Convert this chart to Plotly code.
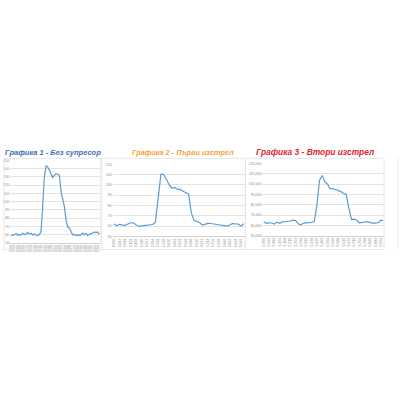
import plotly.graph_objects as go

# graph 1 - no suppressor (dB)
values_1 = [
    59.2, 59.2, 59.6, 61.2, 59.2, 60.0, 59.6, 61.6, 60.4, 60.8,
    62.8, 60.8, 61.6, 59.6, 60.8, 59.2, 58.8, 60.0, 64.0, 94.0,
    130.0, 143.2, 142.0, 138.0, 133.2, 129.2, 132.0, 134.0, 133.2, 132.0,
    112.0, 104.0, 94.0, 78.0, 69.2, 68.0, 64.0, 59.6, 60.4, 58.8,
    59.6, 59.2, 60.0, 62.0, 60.0, 61.6, 58.8, 60.4, 60.8, 62.4,
    63.2, 62.4, 63.2, 60.4,
]
# graph 2 - first shot
values_2 = [
    61.9, 60.3, 61.7, 61.0, 60.5, 62.0, 63.2, 63.0, 61.5, 59.6,
    60.2, 60.6, 61.0, 61.0, 61.5, 63.8, 87.0, 110.5, 110.2, 104.5,
    100.2, 96.8, 97.5, 95.6, 95.6, 93.8, 92.3, 91.2, 73.0, 65.3,
    64.6, 63.5, 60.9, 61.8, 62.6, 62.5, 61.9, 61.6, 61.3, 60.8,
    60.4, 59.9, 61.0, 62.6, 62.0, 62.0, 60.0, 62.2,
]
# graph 3 - second shot
values_3 = [
    63.5, 62.0, 62.5, 62.3, 61.2, 63.0, 62.0, 63.4, 63.5, 63.6,
    64.2, 65.0, 64.6, 61.5, 60.5, 62.2, 62.7, 62.7, 62.8, 63.6,
    79.4, 104.0, 108.5, 102.5, 100.0, 95.4, 95.8, 95.0, 94.0, 92.8,
    91.2, 90.0, 77.0, 65.8, 66.0, 65.2, 62.3, 63.0, 63.5, 63.4,
    62.7, 62.1, 62.1, 62.5, 65.0, 64.7,
]

# time labels on the category axes
times_1 = [f"{i * 0.02:.2f}" for i in range(len(values_1))]
times_2 = [f"{i * 0.021:.3f}".replace(".", ",") for i in range(len(values_2))]
times_3 = [f"{i * 0.021:.3f}".replace(".", ",") for i in range(len(values_3))]

ticks_1 = [50, 60, 70, 80, 90, 100, 110, 120, 130, 140, 150]
ticks_23 = [50, 60, 70, 80, 90, 100, 110, 120]
ticktext_3 = ["50,000", "60,000", "70,000", "80,000", "90,000",
              "100,000", "110,000", "120,000"]

titles = ["Графика 1 - Без супресор", "Графика 2 - Първи изстрел",
          "Графика 3 - Втори изстрел"]
title_colors = ["#3F6FB6", "#F5A33A", "#E0242F"]
title_sizes = [7.5, 7.3, 8.4]

LINE = "#5B9BD5"
GRID = "#E3E3E3"
TICK = "#8A8A8A"
W = H = 400


def px(x):
    return x / W


def py(y):
    return 1 - y / H


fig = go.Figure()
series = [(values_1, times_1), (values_2, times_2), (values_3, times_3)]
for k, (vals, cats) in enumerate(series, start=1):
    fig.add_trace(go.Scatter(
        x=cats, y=vals, mode="lines",
        line={"color": LINE, "width": 1.2},
        xaxis=f"x{k}", yaxis=f"y{k}", hoverinfo="skip",
    ))

# plot areas in pixels: (left, right, bottom, top)
areas = [(9.2, 99.5, 243.3, 160.0), (111.9, 244.7, 236.7, 164.0),
         (262.0, 384.7, 236.0, 163.3)]
cats_all = [times_1, times_2, times_3]
layout = {}
for k, (l, r, b, t) in enumerate(areas, start=1):
    cats = cats_all[k - 1]
    layout[f"xaxis{k}" if k > 1 else "xaxis"] = {
        "domain": [px(l), px(r)],
        "anchor": f"y{k}",
        "type": "category",
        "range": [-0.5, len(cats) - 0.5],
        "tickvals": cats[::2],
        "tickangle": -90,
        "tickfont": {"size": 3.5, "color": TICK},
        "showgrid": False,
        "showline": True,
        "linecolor": "#D0D0D0",
        "linewidth": 0.6,
        "ticks": "",
        "ticklen": 0,
    }
    yt = ticks_1 if k == 1 else ticks_23
    yax = {
        "domain": [py(b), py(t)],
        "anchor": f"x{k}",
        "range": [yt[0], yt[-1]],
        "tickvals": yt,
        "tickfont": {"size": 3.5, "color": TICK},
        "showgrid": True,
        "gridcolor": GRID,
        "gridwidth": 0.6,
        "zeroline": False,
        "showline": False,
        "ticks": "",
    }
    if k == 3:
        yax["ticktext"] = ticktext_3
    layout[f"yaxis{k}" if k > 1 else "yaxis"] = yax

fig.update_layout(layout)

# chart frames
frames = [(3, 158, 100, 250), (101, 158, 245, 250), (245, 158, 384, 250)]
for x0, y0, x1, y1 in frames:
    fig.add_shape(type="rect", xref="paper", yref="paper",
                  x0=px(x0), x1=px(x1), y0=py(y1), y1=py(y0),
                  line={"color": "#E2E2E2", "width": 0.8})
fig.add_shape(type="line", xref="paper", yref="paper",
              x0=px(398), x1=px(398), y0=py(250), y1=py(158),
              line={"color": "#E2E2E2", "width": 0.8})

title_x = [52.5, 182, 315.5]
for text, color, size, cx in zip(titles, title_colors, title_sizes, title_x):
    fig.add_annotation(
        text=text, x=px(cx), y=py(152), xref="paper", yref="paper",
        showarrow=False, xanchor="center", yanchor="middle",
        font={"family": "Liberation Sans", "size": size, "color": color,
              "weight": "bold", "style": "italic"},
    )

fig.update_layout(
    width=W, height=H,
    margin={"l": 0, "r": 0, "t": 0, "b": 0},
    paper_bgcolor="white", plot_bgcolor="white",
    showlegend=False,
    font={"family": "Liberation Sans"},
)

fig.write_html(
    "out.html",
    config={"displayModeBar": False},
    post_script="document.body.style.margin = '0';",
)
